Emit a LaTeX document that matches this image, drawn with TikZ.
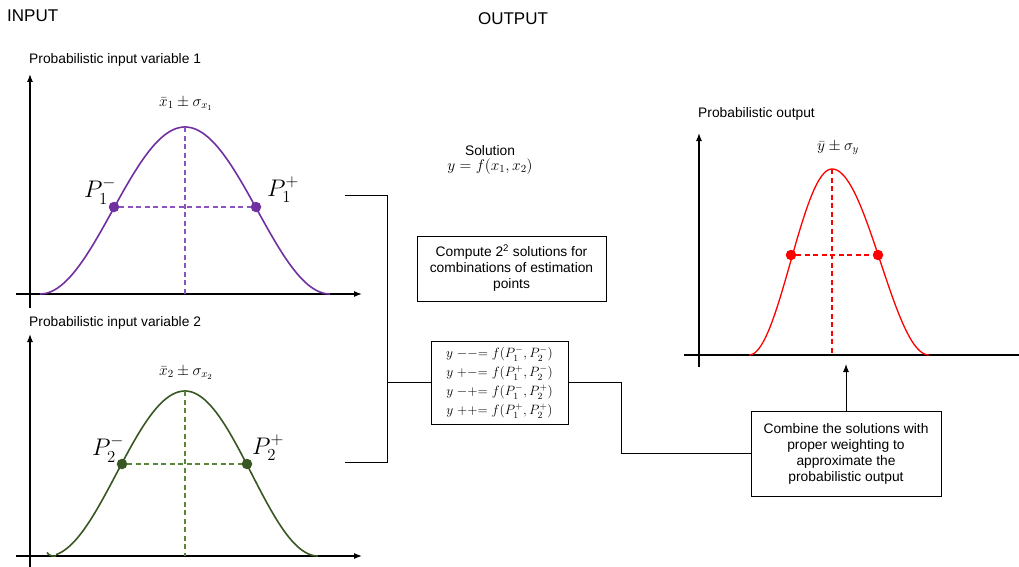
\RequirePackage{fix-cm}
\documentclass[tikz,border=0pt]{standalone}
\usepackage{amsmath}
\usepackage{fontspec}
\setmainfont{Liberation Sans}
\usetikzlibrary{arrows.meta}
\definecolor{mypurple}{RGB}{112,48,160}
\definecolor{mypurpled}{RGB}{140,82,190}
\definecolor{mygreen}{RGB}{56,87,35}
\definecolor{mygreend}{RGB}{88,135,56}
\definecolor{myred}{RGB}{255,0,0}
\begin{document}
\begin{tikzpicture}[x=1pt,y=-1pt,
 axis/.style={line width=1.2pt, black},
 axarrow/.style={-{Latex[length=8pt,width=6pt]}},
 curve/.style={line width=1.6pt},
 guide/.style={line width=1.1pt, dash pattern=on 5pt off 3.5pt},
 dot/.style={circle, inner sep=0pt, minimum size=10.5pt},
 lbl/.style={font=\fontsize{13.8}{16}\selectfont},
 big/.style={font=\fontsize{24}{26}\selectfont},
 mlbl/.style={font=\fontsize{15.5}{17}\selectfont},
 box/.style={draw, line width=1pt, align=center, font=\fontsize{13.8}{16}\selectfont},
 conn/.style={line width=1pt}]
\useasboundingbox (0,0) rectangle (1019,567);

% headings
\node[font=\fontsize{17}{20}\selectfont, anchor=west, inner sep=0pt] (inp) at (7,16) {INPUT};
\node[font=\fontsize{17}{20}\selectfont, inner sep=0pt] (outp) at (513,19) {OUTPUT};

% ---------- plot 1 ----------
\node[lbl, anchor=west, inner sep=0pt] (t1) at (29,60) {Probabilistic input variable 1};
\draw[axis, axarrow] (30,308) -- (30,74);
\draw[axis, axarrow] (16,294) -- (362,294);
\draw[curve, mypurple, domain=40:330, samples=120] plot (\x, {294-167*(1+cos((\x-185)/145*180))/2});
\node[dot, fill=mypurple] (p1m) at (114,207) {};
\node[dot, fill=mypurple] (p1p) at (256,207) {};
\coordinate (pk1) at (185,127);
\coordinate (b1) at (185,294);
\draw[guide, mypurpled] (pk1) -- (b1);
\draw[guide, mypurpled] (p1m) -- (p1p);
\node[mlbl] (m1) at (186,104) {$\bar{x}_1 \pm \sigma_{x_1}$};
\node[big] (l1m) at (100,191) {$P_1^-$};
\node[big] (l1p) at (283,190) {$P_1^+$};

% ---------- plot 2 ----------
\node[lbl, anchor=west, inner sep=0pt] (t2) at (29,323) {Probabilistic input variable 2};
\draw[axis, axarrow] (30,567) -- (30,334);
\draw[axis, axarrow] (16,556) -- (362,556);
\draw[curve, mygreen] (47,552.5) .. controls (49,555.5) and (52,556.5) .. (56,556);
\draw[curve, mygreen, domain=56:185, samples=80] plot (\x, {556-165*(1+cos((\x-185)/137*180))/2});
\draw[curve, mygreen, domain=185:318, samples=80] plot (\x, {556-165*(1+cos((\x-185)/133*180))/2});
\node[dot, fill=mygreen] (p2m) at (122,464) {};
\node[dot, fill=mygreen] (p2p) at (247,464) {};
\coordinate (pk2) at (185,391);
\coordinate (b2) at (185,556);
\draw[guide, mygreend] (pk2) -- (b2);
\draw[guide, mygreend] (p2m) -- (p2p);
\node[mlbl] (m2) at (186,373) {$\bar{x}_2 \pm \sigma_{x_2}$};
\node[big] (l2m) at (108,449) {$P_2^-$};
\node[big] (l2p) at (268,448) {$P_2^+$};

% ---------- middle ----------
\node[lbl, align=center] (sol) at (490,160) {Solution\\[-1pt]{\fontsize{15.5}{17}\selectfont$y=f(x_1,x_2)$}};
\node[box, minimum width=189pt, minimum height=65pt] (comp) at (511.5,268.5)
  {Compute 2\textsuperscript{2} solutions for\\combinations of estimation\\points};
\node[box, minimum width=137pt, minimum height=83pt, inner sep=0pt, font=\fontsize{13.5}{19}\selectfont] (eqs) at (499.5,382.5)
  {$y\;{-}{-}{=}\;f(P_1^-,P_2^-)$\\
   $y\;{+}{-}{=}\;f(P_1^+,P_2^-)$\\
   $y\;{-}{+}{=}\;f(P_1^-,P_2^+)$\\
   $y\;{+}{+}{=}\;f(P_1^+,P_2^+)$};
\node[box, minimum width=190pt, minimum height=85pt] (comb) at (846,453.5)
  {Combine the solutions with\\proper weighting to\\approximate the\\probabilistic output};

\coordinate (a1) at (345,195);
\coordinate (a2) at (345,462);
\coordinate (j1) at (387,195);
\coordinate (j2) at (387,462);
\draw[conn] (a1) -- (j1) -- (j2) -- (a2);
\draw[conn] (j1 |- eqs.west) -- (eqs.west);
\draw[conn] (eqs.east) -- ++(53,0) |- (comb.west);
\coordinate (oa) at (846,364);
\draw[conn, -{Latex[length=8pt,width=6pt]}] (comb.north) -- (oa);

% ---------- output plot ----------
\node[lbl, anchor=west, inner sep=0pt] (t3) at (698,114) {Probabilistic output};
\draw[axis, axarrow] (699,367) -- (699,133);
\draw[axis] (684,355) -- (1019,355);
\draw[curve, myred, line width=1.3pt, domain=749:832, samples=80] plot (\x, {355-186*(1+cos((\x-832)/83*180))/2});
\draw[curve, myred, line width=1.3pt, domain=832:929, samples=80] plot (\x, {355-186*(1+cos((\x-832)/97*180))/2});
\node[dot, fill=myred] (q1) at (791,255) {};
\node[dot, fill=myred] (q2) at (878,255) {};
\coordinate (pk3) at (832,169);
\coordinate (b3) at (832,355);
\draw[guide, myred] (pk3) -- (b3);
\draw[guide, myred] (q1) -- (q2);
\node[mlbl] (m3) at (838,148) {$\bar{y} \pm \sigma_y$};
\end{tikzpicture}
\end{document}
